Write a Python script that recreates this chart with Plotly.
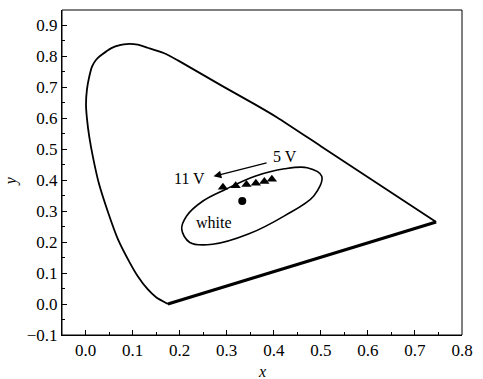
import plotly.graph_objects as go

# spectral locus, from purple-line start up the left side to red corner
locus_x = [0.175, 0.150, 0.132, 0.111, 0.094, 0.069, 0.048, 0.028, 0.016, 0.008, 0.003, 0.001, 0.003, 0.008, 0.014, 0.023, 0.035,
           0.055, 0.075, 0.087, 0.111, 0.132, 0.166, 0.20, 0.291, 0.36, 0.408, 0.50, 0.745]
locus_y = [0.0, 0.022, 0.048, 0.090, 0.134, 0.209, 0.296, 0.392, 0.473, 0.54, 0.60, 0.645, 0.693, 0.735, 0.768, 0.790, 0.806,
           0.827, 0.837, 0.840, 0.838, 0.828, 0.811, 0.784, 0.704, 0.645, 0.602, 0.510, 0.265]

# purple line
purple_x = [0.175, 0.745]
purple_y = [0.0, 0.265]

# white region outline
white_x = [0.4227, 0.471, 0.502, 0.485, 0.4227, 0.346, 0.270, 0.2216, 0.2044, 0.2148, 0.2495, 0.298, 0.360, 0.4227]
white_y = [0.437, 0.4405, 0.413, 0.349, 0.285, 0.226, 0.193, 0.199, 0.242, 0.2846, 0.333, 0.371, 0.413, 0.437]

# measured CIE coordinates (5 V .. 11 V)
pts_x = [0.292, 0.319, 0.342, 0.362, 0.380, 0.396]
pts_y = [0.377, 0.382, 0.386, 0.390, 0.396, 0.403]

# white point
wp_x = [0.333]
wp_y = [0.333]

x_ticks = [0.0, 0.1, 0.2, 0.3, 0.4, 0.5, 0.6, 0.7, 0.8]
y_ticks = [-0.1, 0.0, 0.1, 0.2, 0.3, 0.4, 0.5, 0.6, 0.7, 0.8, 0.9]

FONT = "Liberation Serif, Times New Roman, serif"

fig = go.Figure()
fig.add_trace(go.Scatter(x=locus_x, y=locus_y, mode="lines", line=dict(color="black", width=1.8, shape="spline", smoothing=0.5)))
fig.add_trace(go.Scatter(x=purple_x, y=purple_y, mode="lines", line=dict(color="black", width=3.2)))
fig.add_trace(go.Scatter(x=white_x, y=white_y, mode="lines", line=dict(color="black", width=1.6, shape="spline", smoothing=1.0)))
fig.add_trace(go.Scatter(x=pts_x, y=pts_y, mode="markers", marker=dict(symbol="triangle-up", size=9, color="black")))
fig.add_trace(go.Scatter(x=wp_x, y=wp_y, mode="markers", marker=dict(symbol="circle", size=8, color="black")))

fig.add_annotation(x=0.272, y=0.4125, ax=0.388, ay=0.4576, xref="x", yref="y", axref="x", ayref="y",
                   text="", showarrow=True, arrowhead=2, arrowsize=1.2, arrowwidth=1.3, arrowcolor="black")
fig.add_annotation(x=0.423, y=0.476, text="5 V", showarrow=False, font=dict(family=FONT, size=16, color="black"))
fig.add_annotation(x=0.221, y=0.405, text="11 V", showarrow=False, font=dict(family=FONT, size=16, color="black"))
fig.add_annotation(x=0.272, y=0.263, text="white", showarrow=False, font=dict(family=FONT, size=16, color="black"))

fig.add_annotation(x=0.5, y=-0.112, xref="paper", yref="paper", xanchor="center", yanchor="middle",
                   text="<i>x</i>", showarrow=False, font=dict(family=FONT, size=16, color="black"))
fig.add_annotation(x=-0.127, y=0.474, xref="paper", yref="paper", xanchor="center", yanchor="middle",
                   text="<i>y</i>", showarrow=False, textangle=-90, font=dict(family=FONT, size=16, color="black"))

fig.add_shape(type="rect", xref="paper", yref="paper", x0=0, y0=0, x1=1, y1=1, line=dict(color="black", width=1))

axis_common = dict(showgrid=False, zeroline=False, showline=True, linecolor="black", linewidth=1,
                   ticks="inside", ticklen=5, tickcolor="black", tickwidth=1, mirror=False,
                   tickfont=dict(family=FONT, size=17, color="black"))
fig.update_xaxes(range=[-0.05, 0.8], tickvals=x_ticks, ticktext=[f"{v:.1f}" for v in x_ticks],
                 minor=dict(dtick=0.05, tick0=0, ticks="inside", ticklen=3, tickcolor="black"), **axis_common)
fig.update_yaxes(range=[-0.1, 0.95], tickvals=y_ticks, ticktext=[("\u2212" if v < 0 else "") + f"{abs(v):.1f}" for v in y_ticks],
                 minor=dict(dtick=0.05, tick0=0, ticks="inside", ticklen=3, tickcolor="black"), **axis_common)

fig.update_layout(width=483, height=379, margin=dict(l=62, r=12, t=10, b=44),
                  font=dict(family=FONT, size=16, color="black"),
                  plot_bgcolor="white", paper_bgcolor="white", showlegend=False)

fig.write_html("out.html")
